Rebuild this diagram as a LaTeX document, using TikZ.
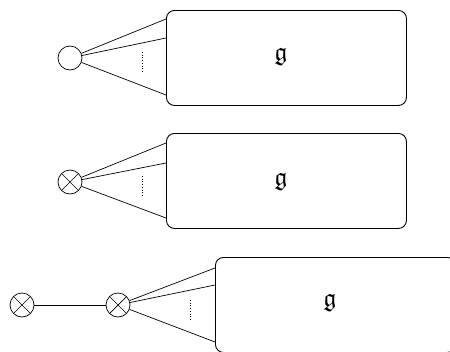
\documentclass[tikz,border=0pt]{standalone}
\usepackage{amssymb}
\usetikzlibrary{calc}
\tikzset{
  blk/.style={draw, line width=0.9pt, rounded corners=8pt, minimum width=240pt, minimum height=95pt, anchor=north west, inner sep=0pt},
  sumnode/.style={draw, circle, line width=0.7pt, minimum size=24pt, inner sep=0pt},
  mulnode/.style={sumnode, path picture={\draw[line width=0.7pt] (path picture bounding box.north west) -- (path picture bounding box.south east) (path picture bounding box.north east) -- (path picture bounding box.south west);}},
  wire/.style={line width=0.7pt},
  dots/.style={dotted, line width=0.7pt},
  lbl/.style={font=\fontsize{26}{30}\selectfont, inner sep=0pt}
}
\begin{document}
\begin{tikzpicture}[x=1pt,y=-1pt]
\useasboundingbox (0,0) rectangle (450,351);
\clip (0,0) rectangle (450,351);
% row 1
\node[blk] (b1) at (166,10) {};
\node[lbl] at (281,57) (g1) {$\mathfrak{g}$};
\node[sumnode] (c1) at (70,58) {};
\coordinate (t1a) at (166,19);
\coordinate (t1b) at (166,38);
\coordinate (t1c) at (166,95);
\coordinate (d1a) at (142,52);
\coordinate (d1b) at (142,72);
\draw[wire] (c1) -- (t1a);
\draw[wire] (c1) -- (t1b);
\draw[wire] (c1) -- (t1c);
\draw[dots] (d1a) -- (d1b);
% row 2
\node[blk] (b2) at (166,133) {};
\node[lbl] at (281,182) (g2) {$\mathfrak{g}$};
\node[mulnode] (c2) at (70,182) {};
\coordinate (t2a) at (166,143);
\coordinate (t2b) at (166,163);
\coordinate (t2c) at (166,218);
\coordinate (d2a) at (142,176);
\coordinate (d2b) at (142,197);
\draw[wire] (c2) -- (t2a);
\draw[wire] (c2) -- (t2b);
\draw[wire] (c2) -- (t2c);
\draw[dots] (d2a) -- (d2b);
% row 3
\node[blk] (b3) at (215,257) {};
\node[lbl] at (330,303) (g3) {$\mathfrak{g}$};
\node[mulnode] (c3a) at (22,305) {};
\node[mulnode] (c3) at (118,305) {};
\coordinate (t3a) at (215,268);
\coordinate (t3b) at (215,285);
\coordinate (t3c) at (215,342);
\coordinate (d3a) at (190,300);
\coordinate (d3b) at (190,321);
\draw[wire] (c3a) -- (c3);
\draw[wire] (c3) -- (t3a);
\draw[wire] (c3) -- (t3b);
\draw[wire] (c3) -- (t3c);
\draw[dots] (d3a) -- (d3b);
\end{tikzpicture}
\end{document}
